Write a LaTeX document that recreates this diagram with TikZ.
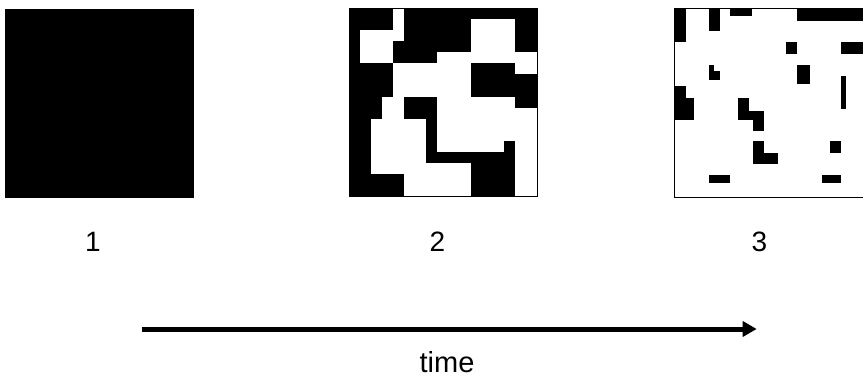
\documentclass[tikz,border=0pt]{standalone}
\usepackage{fontspec}
\setmainfont{Liberation Sans}
\usetikzlibrary{arrows.meta}

\begin{document}
\begin{tikzpicture}[x=1pt, y=-1pt,
        grid/.style={rectangle, minimum size=188pt, inner sep=0pt, line width=0.8pt},
        lbl/.style={inner sep=0pt, font=\fontsize{28}{34}\selectfont}]
    \useasboundingbox (0,0) rectangle (863,377);

    % the three snapshots
    \node (g1) at ( 99.5, 103.3) [grid, draw, fill=black] {};
    \node (g2) at (443.3, 102.5) [grid, fill=black] {};
    \node (g3) at (769.0, 103.3) [grid, fill=white] {};

    % snapshot 2: white patches on a 17 x 17 board
    \begin{scope}[shift={(g2.north west)}, x=11.06pt, y=-11.06pt]
        \foreach \ca/\ra/\cb/\rb in {4/0/5/3, 1/2/4/5, 11/1/15/5, 8/4/17/5, 15/5/17/6,
                4/5/11/8, 3/8/5/10, 8/8/15/10, 15/9/17/17, 8/10/15/12, 8/12/14/13,
                2/10/7/15, 5/14/11/17}
            \fill[white] (\ca,\ra) rectangle (\cb,\rb);
    \end{scope}
    \draw[line width=0.8pt] (g2.north west) rectangle (g2.south east);

    % snapshot 3: a few black spots left
    \begin{scope}[shift={(g3.north west)}]
        \foreach \xa/\ya/\xb/\yb in {0/0/11.7/33.4, 34/0/45/22.4, 55.7/0/77.7/7.4,
                122.3/0/188/11.7, 111/33.4/122.3/44.7, 166/33.4/188/44.7,
                34/55.7/39.3/62.4, 34/62.4/45/70.7, 122.3/55.7/135/74.7,
                166.7/66.7/171.7/100, 0/77.4/11.7/89, 0/89/19/110.7,
                63.3/89/74.3/110.7, 74.3/102.4/89/110.7, 78.3/110.7/89/121.7,
                78.3/132.4/89/155, 89/144/103.3/155, 155/132.4/166.7/144,
                34.3/165.7/55.7/174, 147.7/165.7/166.7/174}
            \fill[black] (\xa,\ya) rectangle (\xb,\yb);
    \end{scope}
    \draw[line width=0.8pt] (g3.north west) rectangle (g3.south east);

    \node (l1) at ( 93.0, 242) [lbl] {1};
    \node (l2) at (437.5, 242) [lbl] {2};
    \node (l3) at (759.5, 242) [lbl] {3};

    % time axis
    \coordinate (t0) at (141.7, 329);
    \coordinate (t1) at (756.7, 329);
    \draw[line width=5pt, -{Triangle[length=14pt, width=15pt]}] (t0) -- (t1);
    \node (tm) at (447, 362) [inner sep=0pt, font=\fontsize{29}{34}\selectfont] {time};
\end{tikzpicture}
\end{document}
